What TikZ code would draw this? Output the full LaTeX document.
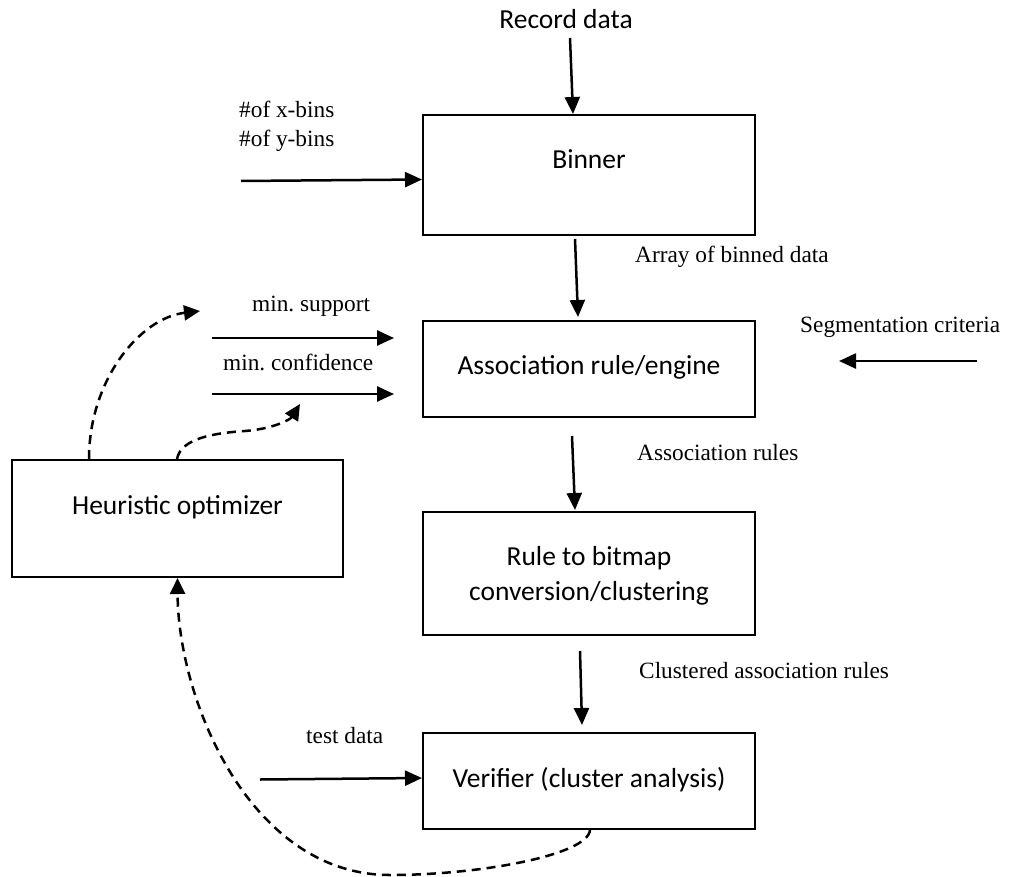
\documentclass[tikz,border=0pt]{standalone}
\usepackage{fontspec}
\setmainfont{Liberation Serif}
\newfontfamily\boxfont{Carlito}
\usetikzlibrary{arrows.meta}
\frenchspacing
\begin{document}
\begin{tikzpicture}[x=1pt,y=-1pt,
  box/.style={draw, line width=2pt, inner sep=0pt},
  boxtext/.style={font=\boxfont\fontsize{27.5}{34}\selectfont, inner sep=0pt, anchor=base},
  lbl/.style={font=\fontsize{23.3}{28}\selectfont, inner sep=0pt, anchor=base west},
  flow/.style={line width=2.5pt, -{Triangle[length=17pt,width=15pt]}},
  feedback/.style={line width=2.5pt, dash pattern=on 9pt off 6pt, -{Triangle[length=16pt,width=15pt]}}]
\useasboundingbox (0,0) rectangle (1011,877);

% processing boxes
\node[box, minimum width=332pt, minimum height=120pt] (binner)   at (589,175)   {};
\node[box, minimum width=332pt, minimum height=96pt]  (assoc)    at (589,369)   {};
\node[box, minimum width=331pt, minimum height=117pt] (heur)     at (177.5,518.5) {};
\node[box, minimum width=332pt, minimum height=123pt] (rule)     at (589,573.5) {};
\node[box, minimum width=332pt, minimum height=96pt]  (verifier) at (589,781)   {};

% box captions
\node[boxtext] (binnertxt) at (589,169)   {Binner};
\node[boxtext] (assoctxt)  at (589,374)   {Association rule/engine};
\node[boxtext] (heurtxt)   at (177.5,514) {Heuristic optimizer};
\node[boxtext] (ruletxtA)  at (589,565)   {Rule to bitmap};
\node[boxtext] (ruletxtB)  at (589,600)   {conversion/clustering};
\node[boxtext] (vertxt)    at (589,787)   {Verifier (cluster analysis)};

% input and flow labels
\node[boxtext] (rec) at (566,29) {Record data};
\node[lbl] (xbins)   at (239,118) {\#of x-bins};
\node[lbl] (ybins)   at (239,147) {\#of y-bins};
\node[lbl] (arr)     at (635,262) {Array of binned data};
\node[lbl] (minsup)  at (252,311) {min. support};
\node[lbl] (minconf) at (223,370) {min. confidence};
\node[lbl] (seg)     at (800,332) {Segmentation criteria};
\node[lbl] (arules)  at (637,460) {Association rules};
\node[lbl] (crules)  at (639,678) {Clustered association rules};
\node[lbl] (test)    at (306,743) {test data};

% free ends of the input arrows
\coordinate (rec0)  at (570,38);
\coordinate (bins0) at (241,181);
\coordinate (sup0)  at (212,338);
\coordinate (conf0) at (212,394);
\coordinate (seg0)  at (977,361);
\coordinate (test0) at (260,779.5);
\coordinate (fbA)   at (200,311);
\coordinate (fbB)   at (300,404);

% solid data flow
\draw[flow] (rec0) -- ([xshift=-16pt]binner.north);
\draw[flow] (bins0) -- ([yshift=-4.5pt]binner.west);
\draw[flow] ([xshift=-14pt,yshift=-3pt]binner.south) -- ([xshift=-11pt,yshift=3pt]assoc.north);
\draw[flow, shorten >=28pt] (sup0) -- (sup0 -| assoc.west);
\draw[flow, shorten >=28pt] (conf0) -- (conf0 -| assoc.west);
\draw[flow, shorten >=83pt] (seg0) -- (seg0 -| assoc.east);
\draw[flow] ([xshift=-17pt,yshift=-18pt]assoc.south) -- ([xshift=-14pt,yshift=1pt]rule.north);
\draw[flow] ([xshift=-9pt,yshift=-15pt]rule.south) -- ([xshift=-7pt,yshift=7pt]verifier.north);
\draw[flow] (test0) -- ([yshift=3pt]verifier.west);

% dashed feedback loops
\draw[feedback] ([xshift=-88.5pt]heur.north) .. controls (89,380) and (140,318) .. (fbA);
\draw[feedback] ([xshift=-0.5pt]heur.north) .. controls (181,438) and (215,433) .. (245,431)
  .. controls (272,429) and (290,420) .. (fbB);
\draw[feedback] ([xshift=1pt]verifier.south) .. controls (588,855) and (480,875) .. (390,875)
  .. controls (250,875) and (178,700) .. (heur.south);
\end{tikzpicture}
\end{document}
